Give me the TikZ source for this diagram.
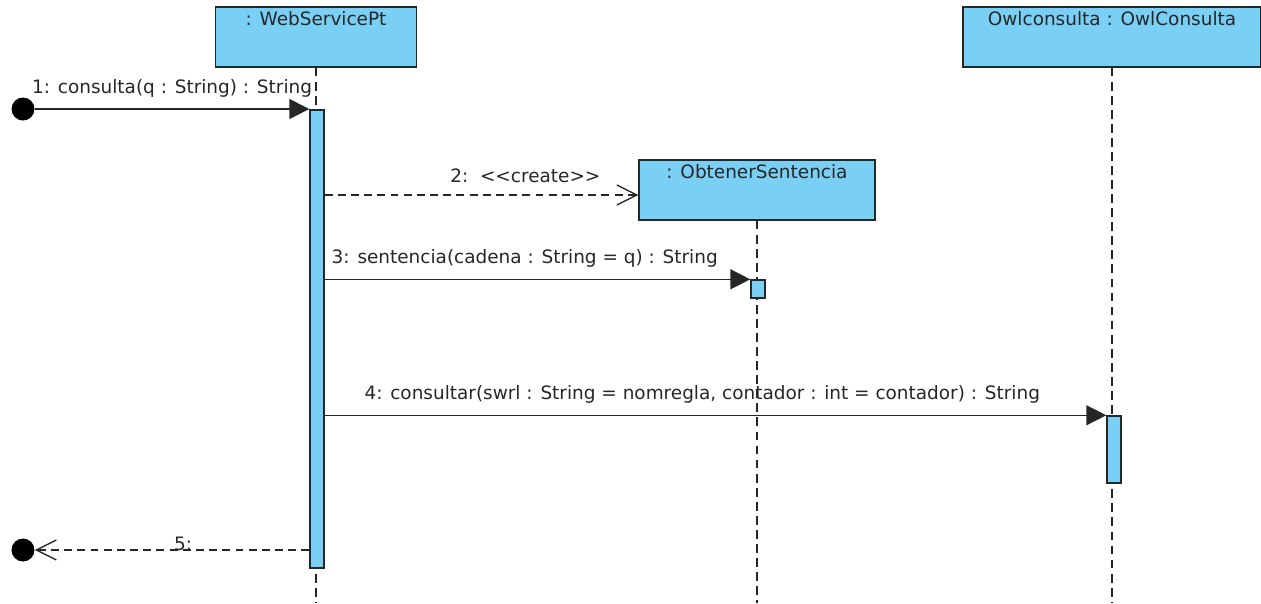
\documentclass[tikz,border=0pt]{standalone}
\usepackage{fontspec}
\setmainfont{DejaVu Sans}
\usepackage{tikz}
\usetikzlibrary{arrows.meta,calc,positioning}
\definecolor{lifeblue}{RGB}{122,207,245}
\tikzset{
  objbox/.style={draw=black!85,line width=0.8pt,fill=lifeblue,rectangle,inner sep=0pt},
  actbar/.style={draw=black!85,line width=0.8pt,fill=lifeblue,rectangle,inner sep=0pt,minimum width=14*0.02cm},
  lifeline/.style={black!85,line width=0.75pt,dash pattern=on 5pt off 3pt},
  call/.style={black!85,line width=0.8pt,-{Triangle[length=0.4cm,width=0.4cm]}},
  create/.style={black!85,line width=0.8pt,dash pattern=on 4.5pt off 3pt,-{Straight Barb[length=0.4cm,width=0.4cm,line width=0.75pt]}},
  msglabel/.style={font=\fontsize{10.5}{12}\selectfont,text=black!85,above,yshift=3pt},
  dot/.style={circle,fill=black,inner sep=0pt,minimum size=23*0.02cm}
}
\begin{document}
\begin{tikzpicture}[x=0.02cm,y=-0.02cm,font=\fontsize{10.5}{12}\selectfont]
\useasboundingbox (0,0) rectangle (1261,603);
% objects
\node[objbox,minimum width=201*0.02cm,minimum height=60*0.02cm,
  label={[anchor=north,inner sep=3pt,text=black!85]north:{: WebServicePt}}] (ws) at (316,37) {};
\node[objbox,minimum width=236*0.02cm,minimum height=60*0.02cm,
  label={[anchor=north,inner sep=3pt,text=black!85]north:{: ObtenerSentencia}}] (os) at (757,190) {};
\node[objbox,minimum width=298*0.02cm,minimum height=60*0.02cm,
  label={[anchor=north,inner sep=3pt,text=black!85]north:{Owlconsulta : OwlConsulta}}] (oc) at (1112,37) {};
% lifelines
\draw[lifeline] (ws.south) -- (ws.south |- 0,603);
\draw[lifeline] (os.south) -- (os.south |- 0,603);
\draw[lifeline] (oc.south) -- (oc.south |- 0,603);
% activations
\node[actbar,minimum height=458*0.02cm] (wsbar) at (317,339) {};
\node[actbar,minimum height=18*0.02cm] (osbar) at (758,289) {};
\node[actbar,minimum height=67*0.02cm] (ocbar) at (1114,449.5) {};
% start and end
\node[dot] (start) at (23,109) {};
\node[dot] (stop) at (23,550) {};
% messages
\draw[call] (start) -- (start -| wsbar.west)
  node[msglabel,midway] {1: consulta(q : String) : String};
\draw[create] ($(wsbar.east |- os.west)+(0,5)$) -- ($(os.west)+(0,5)$)
  node[msglabel,pos=0.64] {2:\ \ <{}<create>{}>};
\draw[call] (wsbar.east |- osbar.north) -- (osbar.north west)
  node[msglabel,pos=0.47] {3: sentencia(cadena : String = q) : String};
\draw[call] (wsbar.east |- ocbar.north) -- (ocbar.north west)
  node[msglabel,pos=0.483] {4: consultar(swrl : String = nomregla, contador : int = contador) : String};
\draw[create] (wsbar.west |- stop) -- (stop)
  node[pos=0.46,anchor=base,inner sep=0pt,text=black!85] {5:};
\end{tikzpicture}
\end{document}
